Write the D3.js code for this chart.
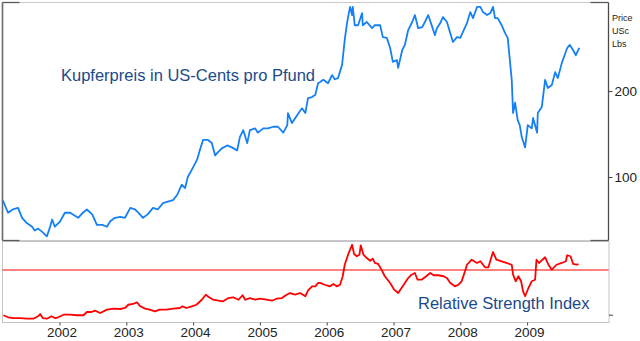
<!DOCTYPE html>
<html>
<head>
<meta charset="utf-8">
<script src="https://cdn.jsdelivr.net/npm/d3@7"></script>
<style>
html,body{margin:0;padding:0;background:#fff;}
svg{display:block;font-family:"Liberation Sans",Arial,sans-serif;}
</style>
</head>
<body>
<svg id="chart" width="640" height="341"></svg>
<script>
// ---- data (decimal years) ----
const yearTicks = [2002, 2003, 2004, 2005, 2006, 2007, 2008, 2009];
const priceTicks = [100, 200];
const priceUnitLabels = ["Price", "USc", "Lbs"];
const priceTitle = "Kupferpreis in US-Cents pro Pfund";
const rsiTitle = "Relative Strength Index";
const rsiLevel = 70;
const rsiLowLevel = 30;

const priceDates = [
  2001.15,2001.23,2001.30,2001.38,2001.44,2001.51,2001.59,2001.63,2001.68,2001.75,2001.81,2001.86,2001.89,2001.93,
  2002.01,2002.08,2002.16,2002.20,2002.28,2002.35,2002.41,2002.49,2002.56,2002.64,2002.71,2002.76,2002.83,2002.91,2002.98,
  2003.06,2003.13,2003.18,2003.25,2003.32,2003.40,2003.47,2003.55,2003.62,2003.70,2003.76,2003.83,2003.88,2003.92,2003.98,
  2004.06,2004.10,2004.15,2004.22,2004.28,2004.33,2004.37,2004.43,2004.51,2004.58,2004.66,2004.70,2004.75,2004.81,2004.85,2004.93,2004.97,
  2005.05,2005.12,2005.20,2005.27,2005.35,2005.41,2005.42,2005.48,2005.56,2005.63,2005.68,2005.72,2005.78,2005.83,2005.87,2005.90,2005.95,
  2006.02,2006.08,2006.12,2006.17,2006.23,2006.27,2006.30,2006.32,2006.35,2006.38,2006.39,2006.42,2006.47,2006.53,2006.54,2006.60,2006.68,2006.72,2006.80,2006.84,2006.90,2006.95,2006.99,
  2007.05,2007.07,2007.13,2007.17,2007.22,2007.28,2007.32,2007.37,2007.43,2007.47,2007.52,2007.58,2007.62,2007.65,2007.70,2007.74,2007.80,2007.85,2007.89,2007.95,
  2008.00,2008.04,2008.10,2008.15,2008.19,2008.25,2008.30,2008.34,2008.40,2008.45,2008.49,2008.52,2008.56,2008.62,2008.67,2008.71,2008.77,2008.79,2008.82,2008.86,2008.89,2008.92,2008.97,
  2009.01,2009.07,2009.09,2009.15,2009.16,2009.22,2009.27,2009.31,2009.37,2009.42,2009.46,2009.52,2009.60,2009.64,2009.69,2009.73,2009.78
];
const priceValues = [
  83,75,77,78,72,69,67,65,66,64,62,67,71,67,
  70,75,75,74,72,75,77,74,68,68,67,70,72,72.5,72,
  78,77,75,72,74,78,77,81,82,83,86.5,94,91.5,100,106,
  115,124,135,135,131.5,119,122,126,129,127,124,138,146,131.5,146,148,143,
  148,148,150,150,143,152,167.5,154.5,165,174,167.5,189,190.5,194,213,215,219,
  213,227.5,220,222,247,302,340,363,394,369,394,340,340,375,340,349,332,340,340,309,307,283,
  253,257,241,278,290,327,349,369,332,335,349,369,335,314,332,346,363,349,319,297,
  309,307,322,346,378,360,394,394,378,369,375,394,360,360,340,319,307,219,167.5,182,158,152,138,127,
  152,148,161,143,167.5,176,219,205,210,233,222,251,283,290,278,267,283
];

const rsiDates = [
  2001.16,2001.23,2001.31,2001.41,2001.51,2001.61,2001.68,2001.71,2001.75,2001.81,2001.88,2001.93,2001.98,
  2002.06,2002.16,2002.26,2002.36,2002.41,2002.48,2002.53,2002.61,2002.71,2002.81,2002.91,2002.98,
  2003.03,2003.10,2003.16,2003.21,2003.28,2003.35,2003.43,2003.50,2003.60,2003.70,2003.80,2003.84,2003.90,2003.98,
  2004.05,2004.13,2004.19,2004.24,2004.30,2004.38,2004.45,2004.53,2004.60,2004.68,2004.74,2004.78,2004.85,2004.93,
  2005.00,2005.10,2005.18,2005.25,2005.33,2005.40,2005.45,2005.53,2005.60,2005.68,2005.72,2005.78,2005.83,2005.87,2005.90,2005.97,
  2006.05,2006.10,2006.15,2006.20,2006.24,2006.27,2006.32,2006.36,2006.38,2006.41,2006.45,2006.49,2006.51,2006.55,2006.60,2006.65,2006.69,2006.72,2006.77,2006.82,2006.87,2006.95,
  2007.01,2007.07,2007.12,2007.17,2007.22,2007.27,2007.32,2007.36,2007.42,2007.49,2007.55,2007.60,2007.67,2007.75,2007.80,2007.85,2007.92,2007.97,
  2008.02,2008.07,2008.10,2008.17,2008.25,2008.30,2008.37,2008.42,2008.47,2008.49,2008.54,2008.62,2008.69,2008.77,2008.79,2008.83,2008.87,2008.91,2008.94,2008.97,
  2009.02,2009.07,2009.12,2009.14,2009.18,2009.23,2009.27,2009.32,2009.37,2009.44,2009.52,2009.58,2009.60,2009.65,2009.69,2009.74,2009.77
];
const rsiValues = [
  29.5,27.7,27.0,27.0,26.4,26.4,28.6,30.6,27.0,26.4,28.6,27.0,27.7,
  30.0,30.0,29.5,29.5,32.4,32.4,33.6,31.5,34.5,35.4,35.1,36.0,
  38.9,39.6,41.1,37.5,35.4,34.5,33.0,34.5,34.5,35.4,36.0,37.5,36.0,37.5,
  38.9,43.4,47.9,45.6,43.4,42.5,42.0,44.9,45.6,43.4,47.4,43.4,44.9,43.4,
  44.3,43.4,42.5,44.3,44.9,47.9,49.4,47.9,49.4,46.5,51.5,55.4,55.4,58.4,58.4,56.8,
  55.4,57.5,55.4,56.8,64.4,74.7,83.7,89.7,92.6,84.3,82.3,83.7,92.1,83.7,80.7,78.3,80.1,76.3,75.4,70.3,64.4,58.4,
  52.4,49.4,53.9,58.4,62.8,65.8,67.3,61.3,61.3,64.4,67.3,65.3,65.3,64.4,62.8,58.4,55.4,56.8,
  59.9,68.8,74.7,79.2,76.3,77.8,72.4,72.4,82.3,86.1,79.2,77.8,76.3,74.7,65.8,59.9,64.4,59.9,50.9,46.5,
  53.9,59.9,61.3,79.2,76.3,79.2,81.4,74.7,70.3,74.7,76.3,77.8,83.2,82.3,75.4,74.7,75.4
];

// ---- layout ----
const svg = d3.select("#chart");
const L = 2.5, R = 608.5;
const topY0 = 2.5, topY1 = 240.5, botY0 = 241.5, botY1 = 322.5;

const x = d3.scaleLinear().domain([2002, 2009]).range([59.5, 527.1]);
const yP = d3.scaleLog().domain([60.2, 410]).range([240, 2]);
const yR = d3.scaleLinear().domain([rsiLowLevel, rsiLevel]).range([314.7, 270]);

const defs = svg.append("defs");
defs.append("clipPath").attr("id","clipTop").append("rect")
  .attr("x", L).attr("y", topY0).attr("width", R - L).attr("height", topY1 - topY0);
defs.append("clipPath").attr("id","clipBot").append("rect")
  .attr("x", L).attr("y", botY0).attr("width", R - L).attr("height", botY1 - botY0);

// lower panel frame (light)
svg.append("rect").attr("x", L).attr("y", botY0).attr("width", R - L + 0.5).attr("height", botY1 - botY0)
  .attr("fill","none").attr("stroke","#c4c4c8").attr("stroke-width",1);
// top panel frame
svg.append("line").attr("x1", L).attr("x2", R).attr("y1", topY0).attr("y2", topY0).attr("stroke","#c8c8cc").attr("stroke-width",1.2);
svg.append("line").attr("x1", L).attr("x2", R).attr("y1", topY1).attr("y2", topY1).attr("stroke","#c8c8cc").attr("stroke-width",1);
svg.append("line").attr("x1", L).attr("x2", L).attr("y1", topY0).attr("y2", topY1).attr("stroke","#6a6a6a").attr("stroke-width",1.6);
svg.append("line").attr("x1", R).attr("x2", R).attr("y1", topY0).attr("y2", topY1).attr("stroke","#4a4a4a").attr("stroke-width",1.3);
// dark corner stubs
[[L, L+17, topY0],[R-18, R, topY0],[L, L+17, topY1],[R-18, R, topY1]].forEach(s => {
  svg.append("line").attr("x1", s[0]).attr("x2", s[1]).attr("y1", s[2]).attr("y2", s[2])
    .attr("stroke","#5a5a5a").attr("stroke-width",1.3);
});

// RSI reference line
svg.append("line").attr("x1", L).attr("x2", R).attr("y1", yR(rsiLevel)).attr("y2", yR(rsiLevel))
  .attr("stroke","#f00").attr("stroke-width",1);

// price line
const priceData = priceDates.map((d,i) => [d, priceValues[i]]);
svg.append("path").datum(priceData)
  .attr("clip-path","url(#clipTop)")
  .attr("fill","none").attr("stroke","#1580f5").attr("stroke-width",1.8).attr("stroke-linejoin","round")
  .attr("d", d3.line().x(d => x(d[0])).y(d => yP(d[1])));

// RSI line
const rsiData = rsiDates.map((d,i) => [d, rsiValues[i]]);
svg.append("path").datum(rsiData)
  .attr("clip-path","url(#clipBot)")
  .attr("fill","none").attr("stroke","#f00").attr("stroke-width",1.8).attr("stroke-linejoin","round")
  .attr("d", d3.line().x(d => x(d[0])).y(d => yR(d[1])));

// right price axis
const ax = svg.append("g").attr("transform", `translate(${R},0)`)
  .call(d3.axisRight(yP).tickValues(priceTicks).tickFormat(d3.format("d")).tickSize(4).tickPadding(2));
ax.select(".domain").remove();
ax.selectAll("line").attr("stroke","#444");
ax.selectAll("text").attr("font-size","13.5px").attr("fill","#222").attr("font-family","Liberation Sans, Arial, sans-serif");

// unit labels
svg.append("g").selectAll("text").data(priceUnitLabels).join("text")
  .attr("x", 612).attr("y", (d,i) => 21 + i * 13)
  .attr("font-size","9px").attr("fill","#222").text(d => d);

// RSI right tick (no label)
const arx = svg.append("g").attr("transform", `translate(${R + 0.5},0)`)
  .call(d3.axisRight(yR).tickValues([rsiLowLevel]).tickFormat("").tickSize(4));
arx.select(".domain").remove();
arx.selectAll("line").attr("stroke","#444");

// bottom axis
const bx = svg.append("g").attr("transform", `translate(0,${botY1})`)
  .call(d3.axisBottom(x).tickValues(yearTicks).tickFormat(d3.format("d")).tickSize(3).tickPadding(2));
bx.select(".domain").remove();
bx.selectAll("line").attr("stroke","#444");
bx.selectAll("text").attr("font-size","13.5px").attr("fill","#222").attr("dx","2")
  .attr("font-family","Liberation Sans, Arial, sans-serif");

// titles
svg.append("text").attr("x", 61).attr("y", 81).attr("font-size","16.5px").attr("fill","#1b4a8a").text(priceTitle);
svg.append("text").attr("x", 418).attr("y", 309).attr("font-size","16.5px").attr("fill","#1b4a8a").text(rsiTitle);
</script>
</body>
</html>
